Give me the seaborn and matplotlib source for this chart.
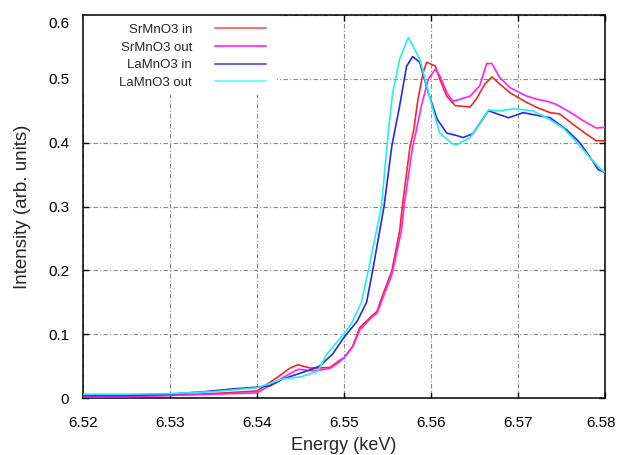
import numpy as np
import pandas as pd
import matplotlib
matplotlib.use("Agg")
import matplotlib.pyplot as plt
from matplotlib.patches import Rectangle
from matplotlib.transforms import ScaledTranslation
import seaborn as sns

# ---- data ----
series_names = ["SrMnO3 in", "SrMnO3 out", "LaMnO3 in", "LaMnO3 out"]
series_colors = ["#f02828", "#ff20ff", "#2828e8", "#20f0f0"]
legend_colors = ["#ff7070", "#ff44ff", "#6464f0", "#70ffff"]

sr_in_E = [6.520, 6.525, 6.530, 6.535, 6.540, 6.5423, 6.5438, 6.5447, 6.5461, 6.5472,
           6.5484, 6.5495, 6.550, 6.551, 6.5518, 6.5530, 6.5538, 6.5545, 6.5555, 6.5564,
           6.5567, 6.5576, 6.5580, 6.5585, 6.5591, 6.5595, 6.5605, 6.5610, 6.5618, 6.5628,
           6.5645, 6.5652, 6.5662, 6.5670, 6.5679, 6.5691, 6.5710, 6.5722, 6.5737, 6.5748,
           6.5763, 6.5779, 6.5790, 6.5800]
sr_in_I = [0.002, 0.003, 0.004, 0.007, 0.011, 0.032, 0.047, 0.052, 0.047, 0.047,
           0.048, 0.059, 0.063, 0.081, 0.110, 0.126, 0.136, 0.163, 0.199, 0.262,
           0.300, 0.395, 0.418, 0.468, 0.510, 0.526, 0.520, 0.500, 0.473, 0.458,
           0.456, 0.468, 0.492, 0.503, 0.492, 0.478, 0.463, 0.455, 0.447, 0.445,
           0.429, 0.413, 0.403, 0.403]

sr_out_E = [6.520, 6.525, 6.530, 6.535, 6.540, 6.5425, 6.5440, 6.5448, 6.5460, 6.5470,
            6.5485, 6.5495, 6.550, 6.551, 6.5518, 6.5530, 6.5538, 6.5545, 6.5555, 6.5566,
            6.5569, 6.5579, 6.5583, 6.5589, 6.5597, 6.5605, 6.5610, 6.5618, 6.5625, 6.5631,
            6.5645, 6.5656, 6.5664, 6.5670, 6.5679, 6.5691, 6.5710, 6.5722, 6.5733, 6.5744,
            6.5763, 6.5779, 6.5790, 6.5800]
sr_out_I = [0.002, 0.002, 0.004, 0.006, 0.008, 0.028, 0.040, 0.045, 0.043, 0.043,
            0.047, 0.057, 0.063, 0.080, 0.106, 0.124, 0.133, 0.158, 0.193, 0.262,
            0.300, 0.395, 0.418, 0.458, 0.500, 0.515, 0.505, 0.479, 0.465, 0.467,
            0.473, 0.489, 0.524, 0.524, 0.502, 0.486, 0.473, 0.468, 0.465, 0.460,
            0.445, 0.431, 0.423, 0.424]

la_in_E = [6.520, 6.525, 6.530, 6.534, 6.537, 6.540, 6.5415, 6.543, 6.545, 6.5461,
           6.5472, 6.5487, 6.550, 6.5515, 6.5526, 6.5533, 6.5546, 6.5555, 6.5564, 6.5572,
           6.5579, 6.5587, 6.5597, 6.5607, 6.5618, 6.5630, 6.5637, 6.5648, 6.5666, 6.5689,
           6.5706, 6.5725, 6.5737, 6.5756, 6.5771, 6.5786, 6.5792, 6.5800]
la_in_I = [0.004, 0.004, 0.006, 0.010, 0.014, 0.017, 0.019, 0.030, 0.039, 0.044,
           0.050, 0.069, 0.095, 0.120, 0.150, 0.200, 0.300, 0.395, 0.458, 0.520,
           0.535, 0.526, 0.478, 0.437, 0.415, 0.411, 0.408, 0.414, 0.450, 0.439,
           0.447, 0.442, 0.439, 0.420, 0.400, 0.371, 0.358, 0.353]

la_out_E = [6.520, 6.525, 6.530, 6.535, 6.540, 6.543, 6.545, 6.547, 6.548, 6.549,
            6.550, 6.551, 6.552, 6.5528, 6.5543, 6.5551, 6.5556, 6.5564, 6.5574, 6.5587,
            6.5593, 6.5602, 6.5610, 6.5625, 6.5630, 6.5645, 6.5666, 6.5680, 6.5695, 6.5717,
            6.5733, 6.5752, 6.5768, 6.5783, 6.5797, 6.5800]
la_out_I = [0.006, 0.006, 0.007, 0.010, 0.016, 0.030, 0.033, 0.042, 0.068, 0.085,
            0.100, 0.120, 0.150, 0.200, 0.300, 0.418, 0.478, 0.531, 0.565, 0.531,
            0.500, 0.453, 0.415, 0.398, 0.397, 0.408, 0.451, 0.450, 0.453, 0.450,
            0.439, 0.423, 0.400, 0.376, 0.356, 0.354]

x_ticks = [6.52, 6.53, 6.54, 6.55, 6.56, 6.57, 6.58]
x_tick_labels = ["6.52", "6.53", "6.54", "6.55", "6.56", "6.57", "6.58"]
y_ticks = [0, 0.1, 0.2, 0.3, 0.4, 0.5, 0.6]
y_tick_labels = ["0", "0.1", "0.2", "0.3", "0.4", "0.5", "0.6"]

frames = []
for name, E, I in zip(series_names,
                      [sr_in_E, sr_out_E, la_in_E, la_out_E],
                      [sr_in_I, sr_out_I, la_in_I, la_out_I]):
    frames.append(pd.DataFrame({"Energy": E, "Intensity": I, "sample": name}))
df = pd.concat(frames, ignore_index=True)

# ---- plot ----
sns.set_style("ticks")
plt.rcParams["font.family"] = ["Liberation Sans", "DejaVu Sans"]

fig = plt.figure(figsize=(6.18, 4.55), dpi=100)
ax = fig.add_axes([83/618, 1-398/455, (605-83)/618, (398-15)/455])

sns.lineplot(data=df, x="Energy", y="Intensity", hue="sample",
             hue_order=series_names, palette=series_colors,
             estimator=None, sort=False, linewidth=1.2, ax=ax, zorder=3)

ax.set_xlim(6.52, 6.58)
ax.set_ylim(0, 0.6)
ax.set_xticks(x_ticks)
ax.set_xticklabels(x_tick_labels)
ax.set_yticks(y_ticks)
ax.set_yticklabels(y_tick_labels)

ax.set_axisbelow(True)
ax.grid(True, color="#8a8a8a", linestyle=(0, (4, 2, 1, 2)), linewidth=0.8)

# white area behind the key (hides the grid there, as in the reference)
ax.add_patch(Rectangle((0, 1 - 80/383), 194/522, 80/383, transform=ax.transAxes,
                       facecolor="white", edgecolor="none", zorder=1))

ax.tick_params(direction="in", top=True, right=True, length=4, width=1,
               labelsize=11, colors="black")
ax.tick_params(axis="x", pad=13)
ax.tick_params(axis="y", pad=10)
for s in ax.spines.values():
    s.set_linewidth(1.1)
    s.set_color("black")

# edge labels nudged like the reference
fig.canvas.draw()
ylabs = ax.get_yticklabels()
ylabs[-1].set_transform(ylabs[-1].get_transform() +
                        ScaledTranslation(0, -8/100, fig.dpi_scale_trans))
xlabs = ax.get_xticklabels()
xlabs[-1].set_transform(xlabs[-1].get_transform() +
                        ScaledTranslation(-4/100, 0, fig.dpi_scale_trans))

ax.set_xlabel("Energy (keV)", fontsize=13, labelpad=5)
ax.set_ylabel("Intensity (arb. units)", fontsize=13.5, labelpad=12)

leg = ax.legend(loc="upper right", bbox_to_anchor=((266-83)/522, 1 - 8.5/383),
                frameon=False, markerfirst=False, fontsize=9.5,
                handlelength=3.85, handletextpad=1.75, labelspacing=0.42,
                borderaxespad=0, borderpad=0)
for line, c in zip(leg.get_lines(), legend_colors):
    line.set_linewidth(1.5)
    line.set_color(c)

fig.savefig("out.png", dpi=100)
